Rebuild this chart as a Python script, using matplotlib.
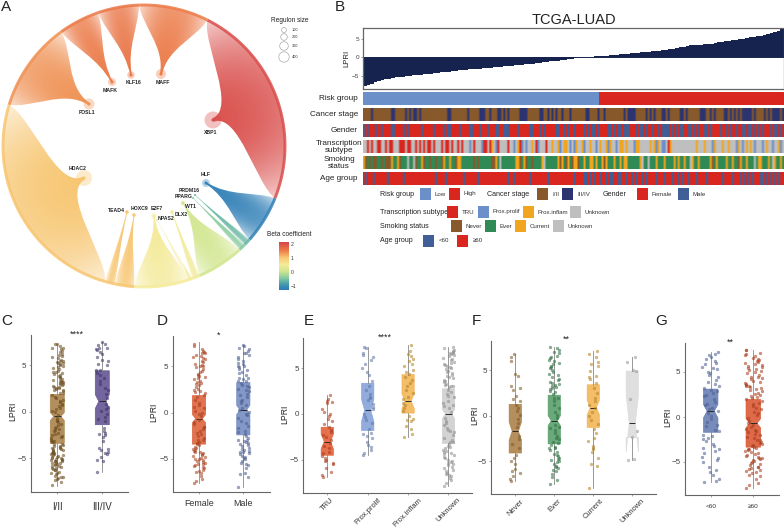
"""
Regulon flow circle, LPRI waterfall with clinical tracks, LPRI notched boxplots
"""

import numpy as np
import matplotlib
matplotlib.use("Agg")
import matplotlib.pyplot as plt
from matplotlib.colors import LinearSegmentedColormap, Normalize, to_rgb
from matplotlib.patches import PathPatch, Rectangle, Circle
from matplotlib.path import Path

plt.rcParams['font.family'] = ['Liberation Sans', 'DejaVu Sans']

W, H = 784, 528

# Panel A data
regulons = ['XBP1', 'HLF', 'PRDM16', 'PPARG', 'WT1', 'DLX2', 'NPAS2', 'E2F7', 'HOXC9', 'TEAD4',
            'HDAC2', 'FOSL1', 'MAFK', 'KLF16', 'MAFF']
beta = [2.0, -1.25, -0.65, -0.45, 0.05, 0.45, 0.5, 0.5, 1.0, 1.0, 1.0, 1.35, 1.5, 1.55, 1.5]
span_start = [63.3, -21.7, -41.6, -44.5, -47.3, -66.9, -70.0, -72.0, -94.0, -102.0, -106.0, 163.0, 126.0, 109.0, 92.0]
span_end = [-21.7, -41.6, -44.5, -47.3, -66.9, -70.0, -72.0, -94.0, -102.0, -106.0, -197.0, 126.0, 109.0, 92.0, 63.3]
node_x = [213, 206, 195, 193, 183, 172, 157, 154, 134, 127, 84, 89, 112, 131, 161]
node_y = [120, 183, 195, 198, 203, 212, 220, 216, 215, 212, 178, 104, 82, 75, 74]
node_r = [8.5, 4, 1, 1, 2.5, 2, 1, 3, 2, 2, 8, 5.5, 4, 3.8, 5]
label_x = [211, 206, 189, 184, 191, 181, 166, 157, 139, 116, 78, 87, 110, 134, 163]
label_y = [132, 175, 191, 197, 206, 214, 218, 208, 209, 211, 168, 113, 90, 83, 83]

size_ticks = [100, 200, 300, 400]
beta_ticks = [2, 1, 0, -1]
beta_stops = [-1.3, -1.0, -0.5, 0.0, 0.5, 1.0, 1.5, 2.2]
beta_colors = ['#2f7db8', '#3b92b0', '#7fc8a0', '#cfe68f', '#f5eb9a', '#f8c670', '#ec7a46', '#d23c4c']

# Panel B data, sorted LPRI
lpri_sorted = [-7.8, -7.4, -7.1, -6.8, -6.5, -6.2, -6.0, -5.75, -5.5, -5.4, -5.3, -5.2, -5.1, -5.0,
               -4.9, -4.8, -4.7, -4.6, -4.5, -4.4, -4.3, -4.2, -4.1, -4.0, -3.85, -3.7, -3.6,
               -3.5, -3.45, -3.35, -3.3, -3.2, -3.1, -3.05, -2.95, -2.9, -2.8,
               -2.7, -2.6, -2.5, -2.45, -2.35, -2.3, -2.2, -2.1, -2.0,
               -1.9, -1.8, -1.7, -1.55, -1.45, -1.3, -1.2, -1.1, -1.0, -0.9, -0.75, -0.65, -0.5,
               -0.35, -0.2, 0.0, 0.05, 0.1, 0.15, 0.2, 0.25, 0.3, 0.35, 0.4,
               0.5, 0.6, 0.7, 0.8, 0.9, 1.0, 1.05, 1.15, 1.2, 1.3, 1.4, 1.5, 1.6, 1.7, 1.8,
               1.9, 2.0, 2.15, 2.3, 2.5, 2.7, 2.9, 3.1, 3.2, 3.25, 3.35, 3.4, 3.5, 3.6,
               3.7, 3.85, 4.0, 4.15, 4.3, 4.45, 4.6, 4.75, 4.9, 5.05, 5.2,
               5.35, 5.5, 5.65, 5.8, 6.0, 6.25, 6.5, 6.8, 7.1, 7.5]
low_share = [0] * 56 + [1] * 44

stage_track = ("aaaabaaaaa" "aaaabbaaaa" "abababbaba" "aaaaaaaaaa" "aabbaaaaaa" "aabaaaaabb" "baabaaabba"
               "babaaaaabb" "bbaaaaaabb" "aabababaab" "aaabaaaaaa" "abbaaaabaa" "baaaaaaaaa" "babbbbaaaa"
               "abababaaab" "babaaaaabb" "abaaaaaabb" "baababaaaa" "bbabababab" "bbbbabaaaa" "bababbbbab")
gender_track = ("MFMFFFMFFM" "FFFFMMFFFF" "MFMFFFFFFM" "FFFFFMFFFF" "MFMMFFFFMF" "FFFMMFFFMF" "FFMFFFMMFF"
                "MMMFFFFMFF" "FFFMMFFFMF" "MFFFFFMMFF" "MFMFFMFFFF" "MFMFMMFMFF" "FFMMFMFMMF" "MMMFFFMFMM"
                "FMFFMFFMFM" "MMMFMFMFMM" "FFMMFMFMFF" "MMFMFFFFMF" "FMFMFFMFFM" "MFMMFMFMFM" "FFFMFMMFMF")
subtype_track = ("UUTUTUUTTU" "UTUTTUUUTT" "TUTTUUTUTU" "TUTTUTUUUT" "UTTUTUUTUT" "UUUPUTUUUP" "TTUTIUPTUU"
                 "UUTUUPUITP" "UPUUIUTPUU" "UTUUIUUIPU" "IIUPUPIUUI" "PUUIUUPUIU" "UIPIUUPUII" "UIUUUPIIUU"
                 "UUUIUIPIUP" "PUTIUUUUUU" "UUUUUUIUUU" "IUUUPIUUUI" "UUIUUUPIUP" "UIUIUPUUUP" "UIUUPUUIPU")
smoking_track = ("CNENENNEEN" "ENNNCEECNE" "EEUEEUNEEC" "NEENEENEEN" "CEECEENCCE" "EEEEENENEE" "EEEENNCEUE"
                 "EEEEEECCNE" "CNEENEEEEC" "UEEEEEECNC" "ENCENCCNEE" "CEECCECEEC" "NCEEECEECE" "CCEEEEEECU"
                 "EEUEEECEEE" "CEEEECECEE" "CEEUCEECEE" "EEECNECEEE" "ECEECEENCE" "ECEEEUECCE" "EECEUCEECE")
age_track = ("OYOOOYOOOO" "OOYOOOOOOO" "YOOOOOOOOO" "OOOOOOYOOO" "OYOOOOOOOO" "YOOOOOOYOO" "OOOOOOOOOO"
             "OOYOOYOOOO" "OOOYOOOOOO" "OOYOOOOOOO" "OOOOOYOOOO" "YYOYOYOOYO" "OYOYYOOYYO" "OYOOYOYOOY"
             "OYOOOOYOOO" "YOOOYOOYOY" "OOYOOOYOOO" "OYOOOOOOOY" "OOOOYOOOYO" "YOYOYOOOYY" "OYOYOYOYOO")

track_names = ['Risk group', 'Cancer stage', 'Gender', 'Transcription\nsubtype', 'Smoking\nstatus', 'Age group']
risk_labels = ['Low', 'High']
stage_labels = ['I/II', 'III/IV']
gender_labels = ['Female', 'Male']
subtype_labels = ['TRU', 'Prox.prolif', 'Prox.inflam', 'Unknown']
smoking_labels = ['Never', 'Ever', 'Current', 'Unknown']
age_labels = ['<60', '≥60']

RED, BLUE, STEEL = '#d9261e', '#6a8fc9', '#3f5f96'
BROWN, NAVY, GREEN, ORANGE, GREY = '#87592b', '#2b3470', '#2f8a55', '#f2a51e', '#bfbfbf'

# Boxplots: q1, median, q3, whisker low, whisker high, notch low, notch high
stage_box = [[-3.4, -0.5, 1.85, -8.0, 7.3, -0.95, -0.1], [-1.4, 1.1, 4.4, -6.5, 7.5, 0.35, 1.85]]
gender_box = [[-3.4, -0.65, 1.85, -7.6, 7.6, -1.1, -0.2], [-2.4, 0.3, 3.25, -8.0, 7.3, -0.2, 0.8]]
subtype_box = [[-4.5, -3.0, -1.45, -6.9, 2.1, -3.8, -2.2], [-1.8, 0.4, 3.35, -4.5, 7.3, -0.8, 1.6],
               [0.1, 1.4, 4.3, -2.5, 7.5, 0.6, 2.2], [-3.2, 0.0, 2.75, -7.8, 7.3, -0.5, 0.5]]
smoking_box = [[-4.1, -1.7, 1.25, -7.2, 6.8, -2.7, -0.7], [-3.1, -0.55, 2.25, -7.5, 7.5, -1.1, 0.0],
               [-1.3, 0.9, 3.4, -7.9, 7.1, 0.1, 1.7], [-2.4, -0.8, 4.9, -4.9, 6.4, -4.0, 2.2]]
age_box = [[-1.7, 0.65, 3.1, -7.2, 7.2, -0.1, 1.4], [-3.35, -0.7, 1.95, -7.9, 7.5, -1.2, -0.2]]

# Sample points
stage_low = [-7.9, 5.1, -6.05, 2.3, -3.1, -7.6, 4.4, -5.2, 0.4, -7.35, 3.15, -4.7, -1.9, 6.5, -5.85, -7.2, 1.05,
             -6.3, 3.5, -4.2, -7.15, 5.6, -5.05, -2.5, 2.65, -7.0, 4.1, -5.65, 0.85, -6.9, 2.0, -3.95, 7.1,
             -6.75, 3.0, -4.6, -1.3, 5.25, -6.6, -5.5, 1.6, -3.6, 2.8, -6.45, 6.0, -4.9, -0.65, 3.3, -6.25, -5.35,
             4.7, -2.25, -4.05, 2.45, 0.1, -5.8, 5.4, -3.7, -1.05, 2.85, -5.6, 3.95, -4.4, 1.2, -5.45, 6.9, -3.5,
             3.35, -4.75, -2.85, 5.5, -5.25, 2.05, -4.3, 0.6, 4.15, -5.0, 7.25, -3.8, -1.75, 3.2, -4.0, 5.75, -2.7,
             1.45, -3.3, 2.5, 4.9, -4.45, -0.9, 6.25, 7.3, -3.9, 1.75, 3.7, 0.25, 5.2, -2.1, 6.7, -1.45,
             -4.55, 3.05, -5.7, 2.2, -6.15, 4.55, -3.45, 5.9, -4.85, 2.95, -2.0, -5.1, 3.45, -0.4, -5.95, 4.3,
             -3.2, 6.1, -4.15, 2.7, -6.55, 0.75, -2.4, 5.0, -5.55, 3.6, -1.6, -4.65, 2.35, -7.05, 4.8, -3.05,
             6.4, -5.3, 1.3, -4.25, 3.85, -2.6, -6.0, 5.35, -3.65, 0.0, -5.15, 4.25, -1.15, -4.95, 2.6, 6.8]
stage_high = [-6.5, 2.6, -4.9, 5.5, -2.4, 0.3, -5.3, 6.7, -1.0, 3.3, -4.3, 7.2, -2.1, 1.5, -5.2, 6.2, -0.6, 3.9,
              -4.55, 5.1, -2.7, 0.8, -4.1, 6.6, -1.7, 2.3, -3.9, 7.5, -0.3, 3.0, -4.4, 5.9, -2.5, 0.1, -4.0, 6.9,
              1.9, -3.1, 4.45, -2.3, 6.4, 0.5, -0.8, 3.6, 6.8, 4.2, 5.6, 7.3, 4.5, 5.0]
gender_f = [-7.6, 3.2, -5.5, 0.5, -6.4, 4.7, -3.2, 6.0, -7.2, 1.7, -4.8, 5.3, -2.0, -6.2, 3.6, -5.05, 0.0, -7.4, 6.6,
            -4.3, 2.3, -5.9, 4.2, -1.2, -6.8, 5.8, -3.7, 1.1, -5.6, 3.3, -4.5, 7.2, -6.5, 2.6, -2.7, 4.9, -5.35,
            0.8, -3.9, 6.4, -5.2, 2.1, -4.0, 5.1, -1.8, -5.8, 3.0, -4.6, 6.2, -1.5, 1.4, -4.2, 5.5, -2.5, 7.4,
            -4.9, 3.9, 0.2, -3.5, 6.7, -2.2, 4.5, -1.0, -0.4, -3.0,
            -6.0, 2.8, -5.1, 4.0, -4.7, 5.6, -3.3, 6.5, -5.7, 3.4, -4.4, 2.4, -6.3, 5.2, -3.8, 1.9, -5.0, 4.4, -2.9,
            3.7, -4.1, 6.1, -5.4, 2.2, -0.8, 5.0, -3.4, 6.9, 0.6, -2.3, 4.1, -1.6, 3.1, 5.9, -0.1]
gender_m = [-8.0, 3.4, -5.2, 0.1, -6.6, 4.6, -3.1, 5.8, -6.0, 1.4, -4.4, 7.0, -2.0, -5.7, 2.6, -4.2, 6.4, -0.9, -6.9,
            3.8, -4.9, 1.7, -3.6, 5.1, -6.5, 2.3, -4.3, 7.3, -1.4, -5.4, 4.1, -2.9, 0.8, -4.7, 6.2, -3.4, 2.0,
            -4.0, 5.4, -1.1, 3.0, -3.8, 4.9, -2.3, 6.7, -0.6, 3.6, -3.2, 1.1, -2.7, 4.3, 7.2, -0.3, 0.5, 3.4,
            -5.0, 2.8, -4.5, 5.6, -3.5, 3.2, -5.5, 6.0, -2.5, 4.4, -4.1, 1.9, -3.0, 5.0, -1.7, 2.4, -3.9, 6.9, 0.3,
            -4.8, 3.7, -2.1, 5.3, -0.1, 1.3, -3.3, 4.7, 6.5, 2.9]
subtype_tru = [-6.9, -1.4, -5.0, 1.3, -3.5, -6.3, -0.5, -4.6, 2.1, -2.5, -5.5, 0.2, -4.1, -1.7, -6.6, 1.45, -3.2,
               -5.1, -0.8, -4.3, 1.6, -2.0, -5.9, 0.5, -3.7, -5.3, -1.1, 1.2, -2.8, -4.8, 0.0, -2.3, -0.2]
subtype_prolif = [-4.5, 2.2, -2.4, 6.2, -0.3, -3.9, 1.5, 5.0, -2.1, 7.2, 0.8, -4.3, 3.0, -1.0, 6.6, -3.1, 1.9, 5.5,
                  -2.6, 0.0, 4.2, -3.6, 2.6, 6.4, -1.6, 1.1, 7.3, -3.4, 3.6, -0.6, 5.9, -2.2, 1.7, 4.6, 0.5]
subtype_inflam = [-2.5, 3.4, -0.6, 6.0, 1.0, -2.2, 4.4, 0.3, 7.5, -1.3, 2.3, 5.2, -0.2, 3.7, 1.6, 6.5, -1.6, 2.6,
                  4.8, 0.7, 5.8, -0.8, 3.0, 1.2, 6.9, -0.5, 4.0, 1.9, 5.5, 4.6, 6.3]
subtype_unknown = [-7.8, 3.1, -5.0, 1.0, -6.5, 4.5, -3.3, 6.1, -7.2, 2.2, -4.5, 5.3, -1.9, -6.1, 3.7, -5.3, 0.2,
                   -7.5, 6.8, -4.1, 2.9, -5.8, 4.1, -1.2, -7.0, 5.7, -3.7, 1.4, -5.5, 3.3, -4.3, 7.2, -6.8, 2.6,
                   -3.0, 4.9, -5.1, 0.6, -3.9, 6.5, -6.4, 1.8, -4.8, 5.1, -2.3, 3.5, -3.5, 5.9, -0.8, 3.9, -2.6,
                   6.3, 4.3, -1.5, 5.5, 6.6, 7.0, -0.4, 4.7, 7.3,
                   -6.2, 2.4, -4.7, 5.0, -5.6, 3.0, -4.0, 6.0, -6.7, 1.2, -5.2, 4.6, -2.0, 3.6, -3.1, 6.7, -4.4, 2.0,
                   5.6, -1.0, 6.9, -5.9, 4.0, -2.8, 5.2, 0.9, -3.6, 6.4, 3.2, -1.7]
smoking_never = [-7.2, 0.5, -5.3, 3.0, -6.6, -2.6, 1.2, -7.0, 4.4, -4.6, 0.1, -6.1, 2.2, -3.6, 6.0, -5.9, -0.8, 1.8,
                 -6.3, 3.3, -4.3, 0.9, 6.8, -5.0, -1.2, 1.6, -3.1, 4.6, -2.2, 2.8, -0.4, 6.4]
smoking_ever = [-7.5, 3.1, -5.3, 0.8, -6.4, 4.5, -3.4, 6.1, -7.1, 2.4, -4.6, 5.3, -1.9, -5.8, 3.7, -4.2, 0.1, -6.7,
                7.2, -3.8, 2.6, -5.1, 4.8, -1.3, -6.1, 5.8, -3.2, 1.6, -4.8, 3.3, -4.0, 7.5, -5.5, 2.0, -2.6, 5.0,
                -4.4, 0.4, -3.6, 6.6, -2.9, 3.5, 5.5, -1.0, 3.9, 6.3, 1.2, -2.2, 4.2, 6.9, 2.9, -1.6, 7.4,
                -6.0, 2.7, -5.6, 4.0, -4.9, 6.0, -3.0, 3.0, -4.3, 5.2, -2.4, 7.0, -5.0, 3.6, 1.9, -3.5, 4.6, -0.3,
                5.7, -1.2, 6.5, 3.4]
smoking_current = [-7.9, 2.0, -3.7, 5.5, -0.5, -5.5, 3.0, -2.8, 6.5, 0.4, -4.6, 4.0, -1.5, 7.1, 1.2, -3.5, 4.4, -5.3,
                   5.9, 0.0, -2.4, 3.6, -4.0, 6.8, 1.6, -0.9, 4.9, -3.3, 2.5, 5.7, -1.9, 4.2, 0.8]
smoking_unknown = [-4.9, -4.8, -2.3, -1.7, 1.8, 4.9, 5.0, 5.9, 6.4]
age_young = [-7.2, 2.0, -5.5, 4.5, -1.0, -7.1, 3.0, -4.4, 6.2, 0.4, -6.9, 1.3, -3.0, 5.3, -2.4, -6.1, 3.7, -0.6, 7.2,
             -4.0, 1.0, -5.9, 4.7, -2.0, 2.7, -3.5, 6.5, 0.1, -4.8, 5.0, -1.4, 2.3, -3.2, 6.9, 0.7, -2.7, 4.1, -0.2,
             5.6, 1.7, -2.3, 3.4, 5.9, -6.4, 2.9, -5.0, 4.9, -3.8, 1.5, -4.6, 3.2, -2.1, 6.0, 0.9, -3.4, 5.5, -1.6,
             2.5, 6.7, -0.9, 3.9, 7.0]
age_old = [-7.9, 3.1, -5.0, 0.9, -6.4, 4.7, -3.3, 6.0, -7.3, 2.3, -4.5, 5.5, -1.9, -5.9, 3.7, -4.8, 0.2, -7.6, 7.1,
           -4.2, 2.6, -5.5, 4.2, -1.3, -6.9, 5.8, -3.7, 1.5, -5.2, 3.3, -4.0, 7.4, -6.1, 2.1, -2.8, 5.2, -4.6, 0.6,
           -3.8, 6.5, -5.7, 1.8, -3.5, 5.0, -2.5, 3.5, -3.1, 6.2, -0.4, 3.9, -2.2, 6.8, 4.4, -1.1, 7.5, -1.6, 2.9,
           -0.1, 1.2, -6.6,
           -5.3, 2.7, -4.3, 5.3, -6.2, 3.2, -3.6, 6.3, -4.9, 3.8, -5.6, 4.5, -3.0, 5.7, -4.1, 2.4, -6.0, 6.6, -2.6,
           3.4, -4.7, 4.9, -1.4, 6.1, -5.1, 2.0, -3.4, 5.6, -0.7, 4.0, -2.0, 3.0, -4.4, 7.0, 1.0, -3.2, 5.1, -5.8,
           1.6, -2.3, 6.9, 0.4, -3.9, 4.3, -1.7, 5.9, -2.9, 3.6, -0.9, 2.2]

JITTER = [-0.11, 0.05, -0.02, 0.12, -0.07, 0.09, 0.01, -0.13, 0.07, -0.04, 0.13, -0.09, 0.03, 0.10, -0.12, -0.01, 0.06,
          -0.06, 0.11, -0.10, 0.02, 0.08, -0.03, -0.12, 0.04, 0.13, -0.08, 0.00, 0.10, -0.05, 0.07]


def px_axes(x0, y0, x1, y1, **kw):
    return fig.add_axes([x0 / W, 1 - y1 / H, (x1 - x0) / W, (y1 - y0) / H], **kw)


fig = plt.figure(figsize=(W / 100, H / 100), dpi=100)
back = px_axes(0, 0, W, H)
back.set_axis_off()

# ---- Panel A
norm = Normalize(beta_stops[0], beta_stops[-1])
cmap = LinearSegmentedColormap.from_list('beta', [(float(norm(s)), c) for s, c in zip(beta_stops, beta_colors)])
CX, CY, R = 144, 146, 141


def rim(ang, rad=R):
    a = np.radians(ang)
    return np.array([CX + rad * np.cos(a), CY - rad * np.sin(a)])


gx, gy = np.meshgrid(np.arange(W), np.arange(H))
gr = np.clip(np.hypot(gx - CX, gy - CY) / R, 0, 1)
gang = np.degrees(np.arctan2(CY - gy, gx - CX))

for i, name in enumerate(regulons):
    a0, a1 = span_start[i], span_end[i]
    col = cmap(norm(beta[i]))[:3]
    node = np.array([node_x[i], node_y[i]], float)
    mid = rim((a0 + a1) / 2)
    angs = np.linspace(a0, a1, 40)
    arc = np.array([rim(a) for a in angs])
    lat = (arc[0] - arc[-1]) / np.linalg.norm(arc[0] - arc[-1])
    stem = 0.22 * node_r[i] * lat
    c1 = node + 0.4 * (mid - node)
    axis_pt = node + 0.7 * (mid - node)
    verts = [node + stem, c1 + stem, axis_pt + 0.8 * (arc[0] - mid), arc[0]]
    codes = [Path.MOVETO, Path.CURVE4, Path.CURVE4, Path.CURVE4]
    for p in arc[1:]:
        verts.append(p)
        codes.append(Path.LINETO)
    verts += [axis_pt + 0.8 * (arc[-1] - mid), c1 - stem, node - stem, node + stem]
    codes += [Path.CURVE4, Path.CURVE4, Path.CURVE4, Path.LINETO]
    shape = Path(np.array(verts), codes)

    th = (gang - a0 + 180) % 360 - 180
    t = np.clip(th / (a1 - a0), 0, 1)
    alpha = 1 - 0.5 * np.abs(2 * t - 1) ** 2.2 * gr - 0.22 * gr ** 3
    rgba = np.zeros((H, W, 4))
    rgba[..., :3] = col
    rgba[..., 3] = np.clip(alpha, 0.3, 1)
    im = back.imshow(rgba, extent=(0, W, H, 0), interpolation='bilinear', zorder=1)
    im.set_clip_path(PathPatch(shape, transform=back.transData, fc='none', ec='none'))

    back.plot(arc[:, 0], arc[:, 1], color=col, lw=2.1, alpha=0.85, solid_capstyle='butt', zorder=2)
    back.add_patch(Circle(node, node_r[i], fc=col, ec='none', alpha=0.35, zorder=3))
    back.add_patch(Circle(node, min(node_r[i], 1.6), fc=col, ec='none', alpha=0.9, zorder=3))
    back.text(label_x[i], label_y[i], name, fontsize=3.7, fontweight='bold', color='#222222',
              ha='center', va='center', zorder=5)

# size legend
back.text(290, 21, 'Regulon size', fontsize=4.7, ha='center', va='center', color='#222222')
for s, yy, rr in zip(size_ticks, [30, 37, 46, 57], [2.5, 3.3, 4.3, 5.2]):
    back.add_patch(Circle((284, yy), rr, fc='white', ec='#aaaaaa', lw=0.5, zorder=3))
    back.text(292, yy, str(s), fontsize=2.8, va='center', color='#333333')

# colour bar
back.text(289, 235, 'Beta coefficient', fontsize=4.7, ha='center', va='center', color='#222222')
cb_ax = px_axes(279, 242, 289, 290)
cb_ax.imshow(np.linspace(2.15, -1.3, 128)[:, None], cmap=cmap, norm=norm, aspect='auto',
             extent=(0, 1, -1.3, 2.15))
cb_ax.set_xticks([])
cb_ax.yaxis.tick_right()
cb_ax.set_yticks(beta_ticks)
cb_ax.set_yticklabels([str(b).replace('-', '−') for b in beta_ticks], fontsize=3.6, color='#333333')
cb_ax.tick_params(axis='y', length=0, pad=1.5)
for sp in cb_ax.spines.values():
    sp.set_visible(False)

# ---- Panel B
ax = px_axes(363, 28, 784, 89)
ax.bar(np.arange(len(lpri_sorted)), lpri_sorted, width=1.03, color='#17234f', linewidth=0)
ax.axhline(0, color='#17234f', lw=0.7)
ax.set_xlim(-0.5, len(lpri_sorted) - 0.5)
ax.set_ylim(-8.57, 7.9)
ax.set_xticks([])
ax.set_yticks([5, 0, -5])
ax.set_yticklabels(['5', '0', '−5'], fontsize=4.6, color='#444444')
ax.tick_params(axis='y', length=1.5, width=0.4, pad=1, color='#555555')
ax.set_ylabel('LPRI', fontsize=5.6, labelpad=1.5, color='#222222')
for sp in ax.spines.values():
    sp.set_color('#666666')
    sp.set_linewidth(0.9)
ax.set_title('TCGA-LUAD', fontsize=10.5, pad=3, color='#222222')

track_tops = [92.3, 108, 124, 140, 156, 172]
track_palettes = [
    ({0: BLUE, 1: RED}, low_share),
    ({'a': BROWN, 'b': NAVY}, stage_track),
    ({'F': RED, 'M': STEEL}, gender_track),
    ({'T': RED, 'P': BLUE, 'I': ORANGE, 'U': GREY}, subtype_track),
    ({'N': BROWN, 'E': GREEN, 'C': ORANGE, 'U': GREY}, smoking_track),
    ({'Y': STEEL, 'O': RED}, age_track),
]
for top, (pal, seq) in zip(track_tops, track_palettes):
    tax = px_axes(363, top, 784, top + 13)
    colors = np.array([[to_rgb(pal[c]) for c in seq]])
    tax.imshow(colors, aspect='auto', interpolation='bilinear' if len(seq) > 100 else 'nearest')
    tax.set_axis_off()

for name, yy in zip(track_names, [99, 115, 130, 147, 163, 178.5]):
    back.text(358 if '\n' not in name else 339, yy, name, fontsize=5.9, color='#222222',
              ha='right' if '\n' not in name else 'center', va='center', linespacing=0.85)


def legend_row(y, title, x_title, swatch_x, colors, labels, label_x_pos):
    back.text(x_title, y, title, fontsize=5.1, va='center', color='#222222')
    for sx, c, lab, lx in zip(swatch_x, colors, labels, label_x_pos):
        back.add_patch(Rectangle((sx, y - 5.6), 11.5, 11.4, fc=c, ec='none', zorder=3))
        back.text(lx, y, lab, fontsize=4.4, va='center', color='#333333')


legend_row(194, 'Risk group', 380, [420, 449], [BLUE, RED], risk_labels, [435, 464])
legend_row(194, 'Cancer stage', 487, [537, 562], [BROWN, NAVY], stage_labels, [552, 577])
legend_row(194, 'Gender', 603, [637, 678], [RED, STEEL], gender_labels, [652, 693])
legend_row(212, 'Transcription subtype', 380, [447, 478, 523, 570], [RED, BLUE, ORANGE, GREY], subtype_labels,
           [462, 493, 538, 585])
legend_row(226, 'Smoking status', 380, [451, 485, 515, 553], [BROWN, GREEN, ORANGE, GREY], smoking_labels,
           [466, 500, 530, 568])
legend_row(241, 'Age group', 380, [423, 457], [STEEL, RED], age_labels, [439, 473])


# ---- Panels C to G
def box_panel(frame, centers, zero, ppu, boxes, points, fills, dots, labels, box_w, stars, star_x, lab_x,
              rot=0, tick_size=7.0, jit=1.0, xpad=4.0):
    left, top, right, bottom = frame
    pax = px_axes(left, top, right, bottom)
    pax.patch.set_alpha(0)
    step = centers[1] - centers[0]
    pos = np.arange(1, len(centers) + 1)
    stats = [dict(q1=b[0], med=b[1], q3=b[2], whislo=b[3], whishi=b[4], cilo=b[5], cihi=b[6], fliers=[])
             for b in boxes]
    parts = pax.bxp(stats, positions=pos, widths=box_w / step, shownotches=True, patch_artist=True,
                    showcaps=False, showfliers=False, manage_ticks=False,
                    medianprops=dict(color='#2a2a2a', lw=0.7),
                    whiskerprops=dict(color='#888888', lw=0.6))
    for patch, c in zip(parts['boxes'], fills):
        patch.set_facecolor(c)
        patch.set_edgecolor(c)
        patch.set_alpha(0.85)
        patch.set_linewidth(0.5)
    for p, vals, d in zip(pos, points, dots):
        off = np.array([JITTER[k % len(JITTER)] for k in range(len(vals))]) * jit
        pax.scatter(p + off, vals, s=4.5, color=d, alpha=0.55, linewidths=0.25, edgecolors=d, zorder=4)
    pax.set_xlim(1 - (centers[0] - left) / step, 1 + (right - centers[0]) / step)
    pax.set_ylim((zero - bottom) / ppu, (zero - top) / ppu)
    pax.set_xticks(pos)
    pax.set_xticklabels(labels, fontsize=tick_size, color='#333333', rotation=rot, ha='center')
    pax.set_yticks([-5, 0, 5])
    pax.set_yticklabels(['−5', '0', '5'], fontsize=5.8, color='#444444')
    pax.tick_params(length=1.5, width=0.4, color='#666666', pad=1.5)
    pax.tick_params(axis='x', pad=xpad)
    for s in ['top', 'right']:
        pax.spines[s].set_visible(False)
    for s in ['left', 'bottom']:
        pax.spines[s].set_color('#666666')
        pax.spines[s].set_linewidth(0.8)
    back.text(lab_x, zero, 'LPRI', fontsize=6.2, rotation=90, ha='center', va='center', color='#222222')
    back.text(star_x, top - 1, stars, fontsize=6.5, ha='center', va='center', color='#222222')


box_panel((30.7, 335, 128, 492), [57.3, 102.3], 411.7, 9.3, stage_box, [stage_low, stage_high],
          ['#a67c40', '#5b4a8c'], ['#6b4c1e', '#3e3466'], stage_labels, 14, '****', 77, 13, xpad=5.5)
box_panel((172.7, 336, 270, 492), [199, 243.3], 412.7, 9.25, gender_box, [gender_f, gender_m],
          ['#dc5a32', '#6d86bc'], ['#a8401f', '#4d5f92'], gender_labels, 13.3, '*', 218.7, 154, tick_size=6.4,
          xpad=3.5)
box_panel((303.3, 338, 472, 493.3), [327.3, 367.7, 408, 448.3], 414, 9.17, subtype_box,
          [subtype_tru, subtype_prolif, subtype_inflam, subtype_unknown],
          ['#e2582c', '#7f9fd8', '#f3b24e', '#cccccc'], ['#a83c1c', '#5f77a8', '#b58428', '#8f8f8f'],
          subtype_labels, 12.3, '****', 385, 285, rot=45, tick_size=5.4, xpad=1)
box_panel((491.3, 340.7, 655.7, 494.3), [515.3, 554.3, 593.3, 632.7], 415.7, 9.1, smoking_box,
          [smoking_never, smoking_ever, smoking_current, smoking_unknown],
          ['#a87a40', '#4f9a63', '#f3b24e', '#dadada'], ['#7c5a28', '#2f6f42', '#b58428', '#9a9a9a'],
          smoking_labels, 12.3, '**', 566.7, 475, rot=45, tick_size=5.4, xpad=1)
box_panel((684.7, 343.3, 779, 495.3), [710.7, 753.3], 417, 9.0, age_box, [age_young, age_old],
          ['#5f78b0', '#d9502a'], ['#4d5f92', '#a83c1c'], age_labels, 14.5, '**', 730, 668, tick_size=4.6, jit=1.5,
          xpad=5)

for letter, xx, yy in [('A', 1, 7), ('B', 335, 7), ('C', 1, 321), ('D', 157, 321), ('E', 304, 321),
                       ('F', 472, 321), ('G', 655, 321)]:
    back.text(xx, yy, letter, fontsize=11, va='center', color='#222222')

back.set_xlim(0, W)
back.set_ylim(H, 0)
back.set_aspect('auto')
fig.savefig('out.png', dpi=100)
